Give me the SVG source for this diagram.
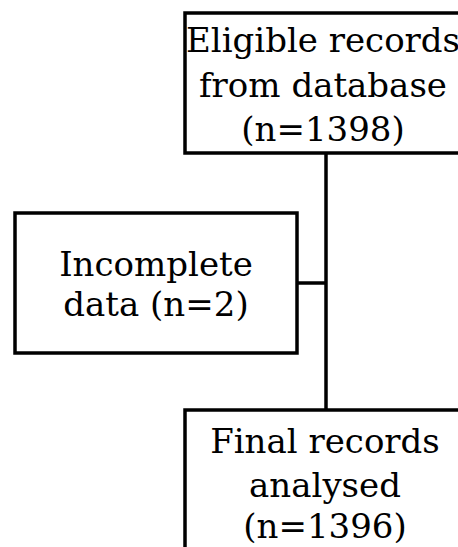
<svg xmlns="http://www.w3.org/2000/svg" width="458" height="547" viewBox="0 0 458 547">
<style>
.box{fill:#fff;stroke:#000;stroke-width:3.5}
.t{font-family:"DejaVu Serif","Liberation Serif",serif;font-size:34px;fill:#000;text-anchor:middle}
.c{stroke:#000;stroke-width:3.5;fill:none}
</style>
<rect width="458" height="547" fill="#fff"/>
<g id="connectors">
<line class="c" x1="326" y1="153" x2="326" y2="410"/>
<line class="c" x1="297" y1="283" x2="326" y2="283"/>
</g>
<g id="eligible">
<rect class="box" x="185" y="13" width="285" height="140"/>
<text class="t" x="323" y="52">Eligible records</text>
<text class="t" x="323" y="97">from database</text>
<text class="t" x="323" y="141">(n=1398)</text>
</g>
<g id="incomplete">
<rect class="box" x="15" y="213" width="282" height="140"/>
<text class="t" x="156" y="276">Incomplete</text>
<text class="t" x="156" y="316">data (n=2)</text>
</g>
<g id="final">
<rect class="box" x="185" y="410" width="285" height="150"/>
<text class="t" x="325" y="453">Final records</text>
<text class="t" x="325" y="497">analysed</text>
<text class="t" x="325" y="538">(n=1396)</text>
</g>
</svg>
